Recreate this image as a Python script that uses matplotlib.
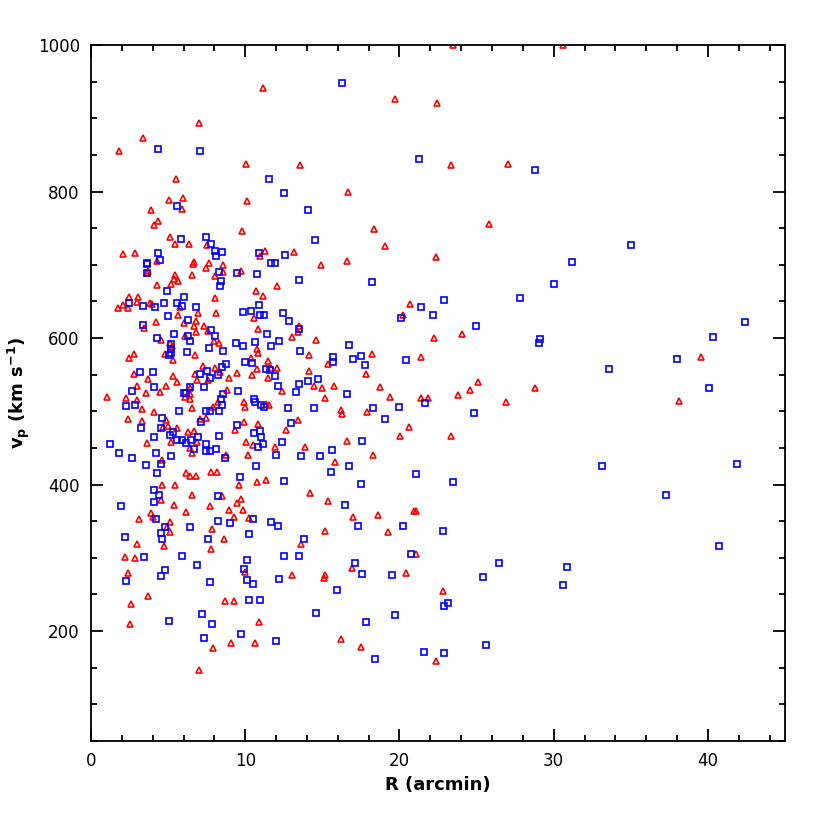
import matplotlib
matplotlib.use('Agg')
import matplotlib.pyplot as plt
from matplotlib.ticker import MultipleLocator

# red triangles: R (arcmin), v_p (km/s)
red_R = [
    7.01, 3.38, 1.84, 10.02, 5.54, 5.06, 5.97, 5.91, 3.87, 10.09, 4.35, 4.07, 9.81, 5.13, 5.45,
    6.34, 7.53, 2.08, 2.84, 4.29, 6.69, 6.62, 7.66, 8.59, 7.47, 3.72, 3.61, 6.52, 8.03, 8.59,
    9.76, 5.45, 5.41, 5.19, 5.63, 4.26, 10.67, 2.45, 3.03, 8.01, 10.93,
    1.73, 2.10, 2.40, 2.97, 3.85, 3.98, 5.76, 6.97, 5.63, 8.12, 4.24, 6.00, 6.84, 6.67, 7.34,
    3.42, 7.62, 6.80, 10.54, 10.82, 6.10, 4.55, 5.15, 5.26, 7.97, 8.27, 10.74, 2.79, 2.47, 4.78,
    5.32, 6.75, 10.82, 10.37, 7.29, 8.01, 10.78, 2.77, 3.70, 5.32, 5.61, 6.73, 6.86, 7.58, 8.38,
    8.92, 9.48, 10.45, 2.99, 3.59, 4.50, 4.89, 6.45, 6.43, 6.10, 6.45, 8.81, 1.06, 2.27, 3.01,
    3.29, 4.11, 6.56, 8.23, 7.92, 9.89, 9.96, 2.40, 3.31, 4.87, 4.70, 5.00, 5.61, 7.10, 7.47,
    9.91, 10.84, 6.28, 6.65, 9.35, 3.64, 5.19, 6.86, 6.43, 6.56, 10.02, 10.52, 10.17, 8.74, 4.59,
    6.17, 6.43, 6.82, 7.77, 8.18,
    4.61, 5.45, 9.59, 10.76, 6.54, 4.55, 5.37, 8.48, 9.70, 9.48, 7.73, 8.98, 9.83, 3.90, 4.03,
    6.15, 3.10, 9.29, 10.24, 5.15, 4.94, 5.11, 7.84, 8.64, 2.97, 4.74, 7.81, 2.19, 2.88, 9.96,
    2.40, 3.70, 2.62, 8.68, 9.29, 2.55, 10.87, 9.05, 10.63, 7.88, 7.03,
    11.17, 19.74, 13.55, 16.69, 18.33, 19.05, 11.28, 13.14, 14.89, 16.58, 12.04, 11.17,
    20.71, 20.26, 13.46, 13.42, 13.03, 14.59, 14.11, 18.20, 21.43, 15.35, 11.49, 12.04, 11.67,
    14.11, 17.86, 11.49, 14.46, 15.00, 15.76, 18.77, 12.38, 15.20, 19.42, 21.43, 11.34, 11.56,
    16.21, 16.26, 17.90, 13.40, 12.64, 20.61, 20.02, 16.62, 13.90, 11.90, 18.29, 15.84, 11.32,
    14.20,
    15.37, 16.99, 18.59, 20.97, 21.08, 15.17, 19.29, 13.59, 21.08, 16.93, 13.01, 15.15, 15.13,
    20.41, 16.23, 17.53,
    23.47, 30.63, 22.42, 23.37, 27.05, 25.78, 22.35, 22.27, 24.04, 25.09, 28.82, 24.60,
    21.88, 23.78, 26.90, 23.37, 22.85, 22.35,
    39.56, 38.10,
]
red_v = [
    893.5, 872.6, 854.8, 837.5, 817.5, 788.4, 791.6, 776.1, 775.2, 787.5, 760.2, 754.2, 746.1, 737.9, 728.8,
    728.3, 727.4, 715.1, 716.0, 705.1, 703.3, 701.0, 702.4, 700.1, 695.6, 691.5, 689.2, 686.4, 685.1, 690.5,
    691.0, 685.5, 680.5, 674.2, 677.8, 671.9, 664.2, 656.4, 656.4, 654.6, 712.4,
    641.0, 645.1, 640.5, 649.2, 648.3, 646.0, 642.3, 633.7, 631.4, 633.7, 622.3, 620.5, 623.7, 616.4, 616.4,
    613.2, 609.6, 607.8, 627.3, 611.9, 603.2, 596.8, 592.7, 589.6, 595.5, 593.7, 585.5, 578.6, 572.3, 578.2,
    570.0, 576.8, 579.1, 573.2, 561.8, 559.1, 557.2, 550.9, 544.5, 548.1, 540.0, 550.9, 542.7, 542.2, 553.6,
    545.9, 552.7, 549.5, 534.5, 524.5, 526.8, 534.5, 532.2, 523.1, 519.5, 516.8, 529.5, 519.5, 518.6, 514.9,
    503.1, 498.5, 504.0, 512.2, 506.3, 512.2, 506.3, 489.9, 487.2, 488.1, 479.0, 479.9, 477.6, 489.4, 491.3,
    485.8, 482.6, 471.2, 473.1, 474.9, 457.1, 458.5, 458.5, 449.9, 443.5, 457.6, 453.5, 439.8, 439.8, 433.5,
    415.3, 411.6, 411.2, 417.1, 416.6,
    399.7, 398.8, 399.3, 403.4, 386.1, 379.3, 372.4, 383.8, 380.6, 374.2, 371.1, 365.1, 365.1, 361.5, 355.1,
    362.9, 352.9, 356.0, 354.7, 348.8, 341.9, 335.6, 339.2, 325.6, 319.2, 316.5, 311.9, 300.5, 300.1, 280.5,
    278.7, 248.6, 237.3, 241.4, 241.4, 209.5, 211.8, 183.6, 183.6, 176.8, 146.3,
    941.7, 926.7, 835.7, 798.8, 749.2, 726.0, 718.7, 716.9, 700.1, 704.6, 671.0, 656.9,
    646.0, 631.4, 616.4, 608.7, 600.9, 597.7, 576.8, 577.7, 573.6, 565.0, 568.6, 558.6, 559.5,
    555.0, 551.3, 545.4, 534.5, 531.8, 534.5, 533.6, 527.2, 518.1, 519.0, 518.6, 509.5, 508.6,
    501.7, 496.3, 498.5, 488.1, 474.0, 478.5, 466.7, 459.9, 451.7, 451.2, 439.8, 430.7, 406.6,
    388.9,
    377.4, 355.6, 357.9, 364.5, 363.4, 336.5, 335.1, 319.2, 305.1, 285.5, 276.4, 276.4, 272.8,
    279.6, 189.0, 178.6,
    1000.0, 1000.0, 920.8, 836.2, 837.1, 756.1, 711.0, 600.0, 606.0, 539.9, 532.2, 529.0,
    518.5, 521.7, 513.1, 466.7, 254.6, 159.0,
    574.1, 514.0,
]

# blue squares: R (arcmin), v_p (km/s)
blue_R = [
    4.33, 7.08, 5.58, 5.84, 7.49, 7.79, 8.03, 8.10, 8.51, 4.33, 4.48, 3.66, 3.64, 3.61, 8.33,
    8.44, 8.38, 9.48, 10.78, 10.87, 4.91, 6.00,
    2.49, 3.35, 4.18, 4.76, 5.61, 5.91, 6.82, 10.89, 5.00, 6.28, 9.87, 10.37, 10.93, 3.40, 5.41,
    7.79, 4.31, 6.32, 8.03, 6.41, 5.22, 5.19, 5.17, 5.04, 6.21, 7.64, 8.57, 9.39, 10.61, 9.87,
    9.98, 10.43, 8.77, 8.48, 7.53, 7.08, 8.23, 7.73, 3.16, 4.05, 4.09, 7.36, 2.64, 6.02, 6.15,
    6.43, 9.55, 8.53, 8.42, 8.48, 10.56, 10.61, 11.04, 2.25, 2.86, 5.74, 7.45, 7.75, 8.27, 4.63,
    3.23, 4.52, 5.35, 5.11, 4.07, 7.14, 9.44, 8.29, 10.56, 10.95, 11.00, 6.93, 6.47, 5.61, 5.89,
    6.19, 7.49, 6.67, 7.49, 7.73, 8.10, 10.82, 1.26, 1.84, 2.66, 4.22, 5.22, 4.55, 3.59, 4.31,
    8.70, 10.69, 9.68,
    4.09, 4.39, 4.11, 1.93, 8.23, 4.22, 4.78, 8.23, 9.03, 10.52, 6.41, 4.57, 4.61, 2.19, 7.58,
    10.24, 3.42, 5.91, 6.88, 10.09, 9.89, 4.81, 4.55, 2.25, 7.71, 10.11, 10.48, 10.24, 10.93, 5.04,
    7.21, 7.86, 9.72, 7.32,
    16.28, 21.30, 11.54, 12.49, 14.09, 14.55, 12.58, 11.69, 11.90, 13.51, 18.23,
    21.43, 11.19, 12.47, 12.86, 20.13, 13.49, 11.41, 12.19, 11.69, 13.57, 16.75, 15.69, 15.67,
    16.97, 17.53, 17.79, 20.41, 11.32, 11.60, 11.93, 13.49, 14.07, 14.70, 12.10, 13.27, 16.62,
    11.23, 12.79, 14.46, 18.27, 19.98, 21.69, 19.05, 12.94, 11.17, 12.40, 17.60, 15.61, 12.01,
    13.62, 14.87, 16.75, 15.56, 21.10, 12.51, 17.53,
    16.45, 11.69, 12.12, 17.30, 20.26, 13.79, 12.51, 13.51, 17.12, 20.78, 17.55, 19.55, 12.19,
    15.97, 14.57, 19.70, 17.81, 11.99, 18.40, 21.60,
    28.78, 31.17, 30.05, 27.83, 22.91, 22.16, 24.96, 29.12, 29.08, 33.56,
    24.83, 33.11, 23.45, 22.85, 26.45, 30.89, 25.39, 30.63, 23.17, 22.91, 25.63, 22.91,
    35.00, 42.39, 40.36, 37.97, 40.10, 41.89, 37.28, 40.75,
]
blue_v = [
    858.0, 854.8, 779.7, 735.1, 737.9, 727.9, 719.2, 712.0, 716.9, 716.0, 706.9, 702.8, 701.0, 689.2, 690.1,
    678.3, 670.5, 688.3, 687.4, 716.0, 664.2, 656.0,
    648.3, 644.2, 642.3, 647.8, 647.4, 643.3, 642.8, 645.5, 630.1, 624.1, 635.1, 636.4, 631.9, 617.8, 606.0,
    611.0, 600.5, 602.8, 603.2, 596.0, 591.4, 584.6, 579.1, 576.4, 580.9, 585.9, 582.7, 593.7, 594.6, 589.1,
    566.8, 566.3, 564.5, 560.9, 554.5, 551.3, 550.0, 545.0, 554.1, 553.6, 533.6, 533.6, 527.2, 524.9, 524.5,
    533.1, 528.1, 524.0, 517.2, 508.1, 517.2, 512.6, 509.0, 506.7, 509.0, 499.9, 499.9, 500.4, 500.4, 490.3,
    477.2, 477.6, 471.2, 468.1, 465.3, 485.4, 481.3, 466.2, 470.3, 472.6, 464.4, 465.3, 461.2, 461.2, 461.2,
    456.2, 455.8, 449.0, 446.2, 446.2, 448.0, 451.7, 454.9, 443.0, 436.2, 443.0, 438.5, 428.0, 426.2, 416.2,
    436.2, 425.3, 410.3,
    392.9, 386.1, 375.6, 371.1, 384.3, 352.9, 342.4, 350.6, 346.9, 352.9, 341.5, 333.3, 325.6, 327.8, 326.0,
    332.8, 301.0, 302.8, 290.5, 296.9, 285.1, 283.7, 274.6, 268.7, 266.9, 270.0, 263.7, 242.7, 242.7, 213.6,
    222.7, 209.5, 196.3, 190.9,
    948.1, 843.9, 817.0, 797.9, 775.2, 733.8, 712.8, 701.9, 701.9, 679.2, 676.0,
    642.3, 631.0, 634.2, 623.7, 626.9, 612.8, 605.0, 595.9, 589.6, 581.8, 590.0, 573.6, 567.7,
    571.8, 575.0, 563.2, 570.0, 557.7, 556.3, 547.7, 537.2, 540.9, 544.0, 534.0, 526.3, 524.0,
    505.8, 504.9, 504.9, 504.9, 506.3, 511.7, 489.0, 484.0, 455.8, 458.5, 459.9, 446.7, 439.8,
    438.9, 438.9, 425.3, 416.6, 414.8, 404.8, 400.3,
    371.5, 348.8, 343.8, 342.8, 343.8, 325.6, 301.9, 302.8, 292.8, 305.5, 277.8, 276.9, 270.5,
    256.0, 224.5, 221.8, 211.8, 186.8, 162.6, 171.8,
    829.8, 704.2, 674.2, 655.0, 652.3, 630.9, 616.4, 599.1, 593.2, 558.1,
    497.1, 424.8, 403.0, 336.1, 293.3, 287.8, 274.2, 262.8, 237.8, 233.7, 180.4, 169.5,
    727.0, 621.9, 601.4, 571.3, 531.7, 428.0, 385.7, 315.6,
]

plt.rcParams['font.family'] = ['DejaVu Sans']
plt.rcParams['mathtext.fontset'] = 'dejavusans'

fig = plt.figure(figsize=(8.3, 8.3), dpi=100)
ax = fig.add_axes([0.1096, 0.1072, 0.8362, 0.8386])

ax.plot(red_R, red_v, linestyle='none', marker='^', markersize=5.0,
        markerfacecolor='none', markeredgecolor='red', markeredgewidth=1.2)
ax.plot(blue_R, blue_v, linestyle='none', marker='s', markersize=4.0,
        markerfacecolor='none', markeredgecolor='blue', markeredgewidth=1.2)

ax.set_xlim(0, 45)
ax.set_ylim(50, 1000)
ax.xaxis.set_major_locator(MultipleLocator(10))
ax.xaxis.set_minor_locator(MultipleLocator(2))
ax.yaxis.set_major_locator(MultipleLocator(200))
ax.yaxis.set_minor_locator(MultipleLocator(50))
ax.tick_params(which='both', direction='in', top=True, right=True, width=1.3,
               labelsize=12, pad=8)
ax.tick_params(which='major', length=8.5)
ax.tick_params(which='minor', length=4.5)
for s in ax.spines.values():
    s.set_linewidth(1.3)

ax.set_xlabel('R (arcmin)', fontsize=13, fontweight='bold', labelpad=4)
ax.set_ylabel(r'$\mathbf{v_p}$ (km s$^{\mathbf{-1}}$)', fontsize=13,
              fontweight='bold', labelpad=4)

fig.savefig('out.png', dpi=100)
